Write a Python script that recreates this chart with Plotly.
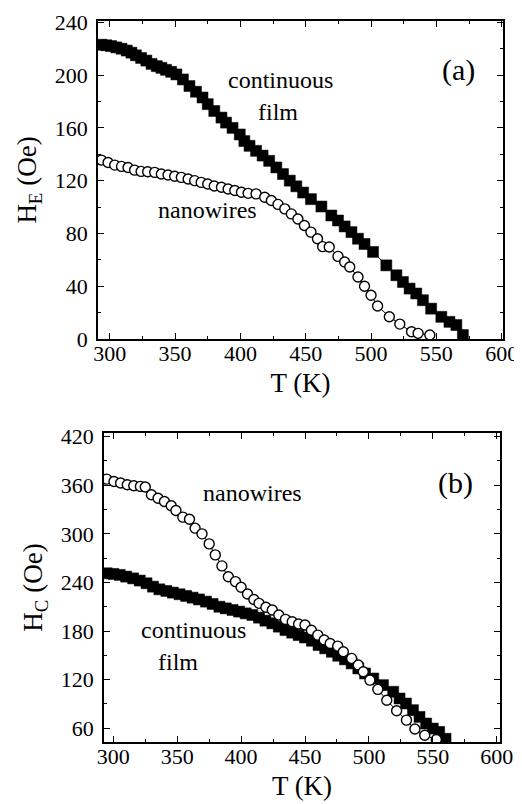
import plotly.graph_objects as go

# ---- data (a): exchange bias H_E vs T ----
film_a_T = [293.6, 297.4, 301, 305, 309, 313, 316.6, 320, 324, 328, 332, 336, 339.5, 343, 347, 351,
            356, 361, 366, 371, 375, 380, 385.5, 389, 394, 399.5, 403, 407, 412, 417, 422, 427.5,
            432.6, 437.8, 442.8, 448, 454, 462, 469.6, 474.7, 479.8, 485, 490, 495, 501.5, 511.7,
            519.4, 524.4, 529.5, 534.6, 539.7, 546, 553.8, 560, 565.3, 570.3]
film_a_H = [223, 222.6, 222, 221, 220, 218.6, 217, 215, 213, 211, 208.5, 206.8, 205.5, 204, 202.5, 200.5,
            196.7, 191.7, 187.4, 183, 178, 172.8, 167.8, 164, 160, 155, 150, 146.4, 142.6, 139, 135, 130,
            125, 120, 115.7, 111, 106, 100.4, 93.6, 89.8, 85.3, 81, 76, 72, 66, 55.8,
            48.3, 43.2, 38.2, 34.5, 29.4, 23, 16.8, 13, 10.6, 3]

wire_a_T = [293.6, 298.7, 303.8, 309, 314, 319, 324, 329, 334.4, 339.5, 344.6, 349.7, 354.8, 360, 365,
            370, 375, 380, 385.5, 390.6, 395.7, 400.8, 405.9, 412, 418.6, 423.7, 428.8, 434, 439, 444,
            449, 454, 459, 463, 468, 474.7, 479.8, 483.7, 490, 495, 500, 505, 514, 522, 531, 536, 545]
wire_a_H = [135.6, 133.8, 131.8, 130.8, 130, 128, 127, 126.8, 126.3, 125, 124.3, 123.3, 122.5, 121.3, 120,
            118.7, 117.5, 116, 115, 113.7, 112.5, 111.2, 110.4, 110, 107.4, 105, 102, 98.6, 94.8, 91,
            86, 81, 76, 70, 69.7, 62.6, 58.4, 54.6, 47, 40, 33.2, 25, 16.9, 11.3, 5.5, 4.3, 3]

# ---- data (b): coercivity H_C vs T ----
wire_b_T = [294.8, 300.5, 305.7, 310.9, 316, 321.2, 325, 329.8, 335, 340, 345.3, 349, 354.4, 359.6, 364,
            369.4, 375, 379.8, 385, 390, 395.6, 400, 405, 410, 414, 419.4, 424.4, 429.5, 434.7, 440,
            445, 450, 455, 460, 465, 469.7, 475.6, 480, 486.5, 491.7, 495.6, 500.8, 507, 514, 521.7,
            529.4, 536, 543.7, 552.8]
wire_b_H = [367.6, 364.7, 362.7, 360.6, 359.4, 358.6, 357.8, 348.2, 344, 340, 334.6, 328.9, 320.6, 318, 307,
            300, 287.6, 274, 260.4, 247, 241, 234, 225.8, 219, 214.2, 209.3, 206, 199.8, 194.4, 191.5,
            188.7, 187.4, 181, 175, 168.9, 164.7, 161.4, 154.4, 146.2, 138, 129.7, 119.4, 108, 94.6, 81.6,
            70, 59, 51.3, 46]

film_b_T = [294.8, 300, 305, 310, 315.5, 320.7, 326, 331, 336, 341.5, 346.6, 351.8, 357, 362, 367, 372.5,
            377.7, 383, 388, 393.3, 398.4, 403.6, 408.8, 414, 419, 424.4, 429.5, 434.7, 440, 445, 450,
            455.4, 460.6, 465.8, 471, 476, 481.3, 486.5, 491.7, 497, 503.4, 511, 519, 524, 529, 534.5,
            539.6, 544.8, 550, 555, 560]
film_b_H = [251.3, 250.5, 249.3, 247.2, 245, 242.3, 239, 234.8, 231.5, 229.5, 227.4, 225.4, 223.3, 221.2, 219, 216.3,
            213.4, 210, 208, 206, 204, 201.8, 199.8, 196.5, 192.8, 189.5, 185.4, 181.2, 178, 175, 172,
            168, 162.7, 158.6, 154.4, 149.5, 145, 140, 133.8, 127.6, 121.4, 113.2, 105, 96.7, 90.5, 82.3,
            74, 65.8, 59.6, 55.5, 47]

x_ticks = [300, 350, 400, 450, 500, 550, 600]
ya_ticks = [0, 40, 80, 120, 160, 200, 240]
yb_ticks = [60, 120, 180, 240, 300, 360, 420]

# page body has an 8px margin: size the figure so it fills the 522x804 window exactly
OFF = 8
W, H = 522 - OFF, 804 - OFF
FONT = "Liberation Serif, Times New Roman, Times, serif"

def px_x(p):
    return (p - OFF) / W

def px_y(p):
    return 1 - (p - OFF) / H

fig = go.Figure()

sq = dict(symbol="square", size=11, color="black", line=dict(color="black", width=0.5))
circ = dict(symbol="circle", size=10, color="white", line=dict(color="black", width=1.4))

fig.add_trace(go.Scatter(x=film_a_T, y=film_a_H, mode="lines+markers", marker=sq,
                         line=dict(color="black", width=1), xaxis="x", yaxis="y", showlegend=False))
fig.add_trace(go.Scatter(x=wire_a_T, y=wire_a_H, mode="lines+markers", marker=circ,
                         line=dict(color="black", width=1), xaxis="x", yaxis="y", showlegend=False))
fig.add_trace(go.Scatter(x=film_b_T, y=film_b_H, mode="lines+markers", marker=sq,
                         line=dict(color="black", width=1), xaxis="x2", yaxis="y2", showlegend=False))
fig.add_trace(go.Scatter(x=wire_b_T, y=wire_b_H, mode="lines+markers", marker=circ,
                         line=dict(color="black", width=1), xaxis="x2", yaxis="y2", showlegend=False))

tickfont = dict(family=FONT, size=22, color="black")
titlefont = dict(family=FONT, size=27, color="black")

def xaxis(domain, anchor, rng):
    return dict(domain=domain, anchor=anchor, range=rng, tickvals=x_ticks, automargin=False,
                ticks="inside", ticklen=6, tickwidth=1.2, tickcolor="black",
                minor=dict(dtick=25, tick0=0, ticks="inside", ticklen=3, tickwidth=1, tickcolor="black"),
                showline=True, linecolor="black", linewidth=1.5, mirror="ticks",
                showgrid=False, zeroline=False, tickfont=tickfont, ticklabelstandoff=-6,
                title=dict(text="T (K)", font=titlefont, standoff=8))

def yaxis(domain, anchor, rng, ticks, dminor, title):
    return dict(domain=domain, anchor=anchor, range=rng, tickvals=ticks, automargin=False,
                ticks="inside", ticklen=6, tickwidth=1.2, tickcolor="black",
                minor=dict(dtick=dminor, tick0=0, ticks="inside", ticklen=3, tickwidth=1, tickcolor="black"),
                showline=True, linecolor="black", linewidth=1.5, mirror="ticks",
                showgrid=False, zeroline=False, tickfont=tickfont, ticklabelstandoff=4,
                title=dict(text=title, font=titlefont, standoff=10))

fig.update_layout(
    width=W, height=H, margin=dict(l=0, r=0, t=0, b=0),
    paper_bgcolor="white", plot_bgcolor="white",
    font=dict(family=FONT, color="black"),
    xaxis=xaxis([px_x(98), px_x(503)], "y", [291, 601]),
    yaxis=yaxis([px_y(339), px_y(21)], "x", [0, 241], ya_ticks, 20, "H<sub>E</sub> (Oe)"),
    xaxis2=xaxis([px_x(104), px_x(500)], "y2", [292.7, 602.6]),
    yaxis2=yaxis([px_y(742), px_y(433)], "x2", [43, 424.5], yb_ticks, 30, "H<sub>C</sub> (Oe)"),
)

labels = [
    ("continuous", 280, 80, 24), ("film", 278, 112, 24), ("nanowires", 207, 210, 24), ("(a)", 458, 70, 30),
    ("nanowires", 252, 493, 24), ("(b)", 455, 483, 30), ("continuous", 193, 630, 24), ("film", 178, 662, 24),
]
for txt, px, py, sz in labels:
    fig.add_annotation(text=txt, x=px_x(px), y=px_y(py), xref="paper", yref="paper",
                       showarrow=False, xanchor="center", yanchor="middle",
                       font=dict(family=FONT, size=sz, color="black"))

fig.write_html("out.html")
